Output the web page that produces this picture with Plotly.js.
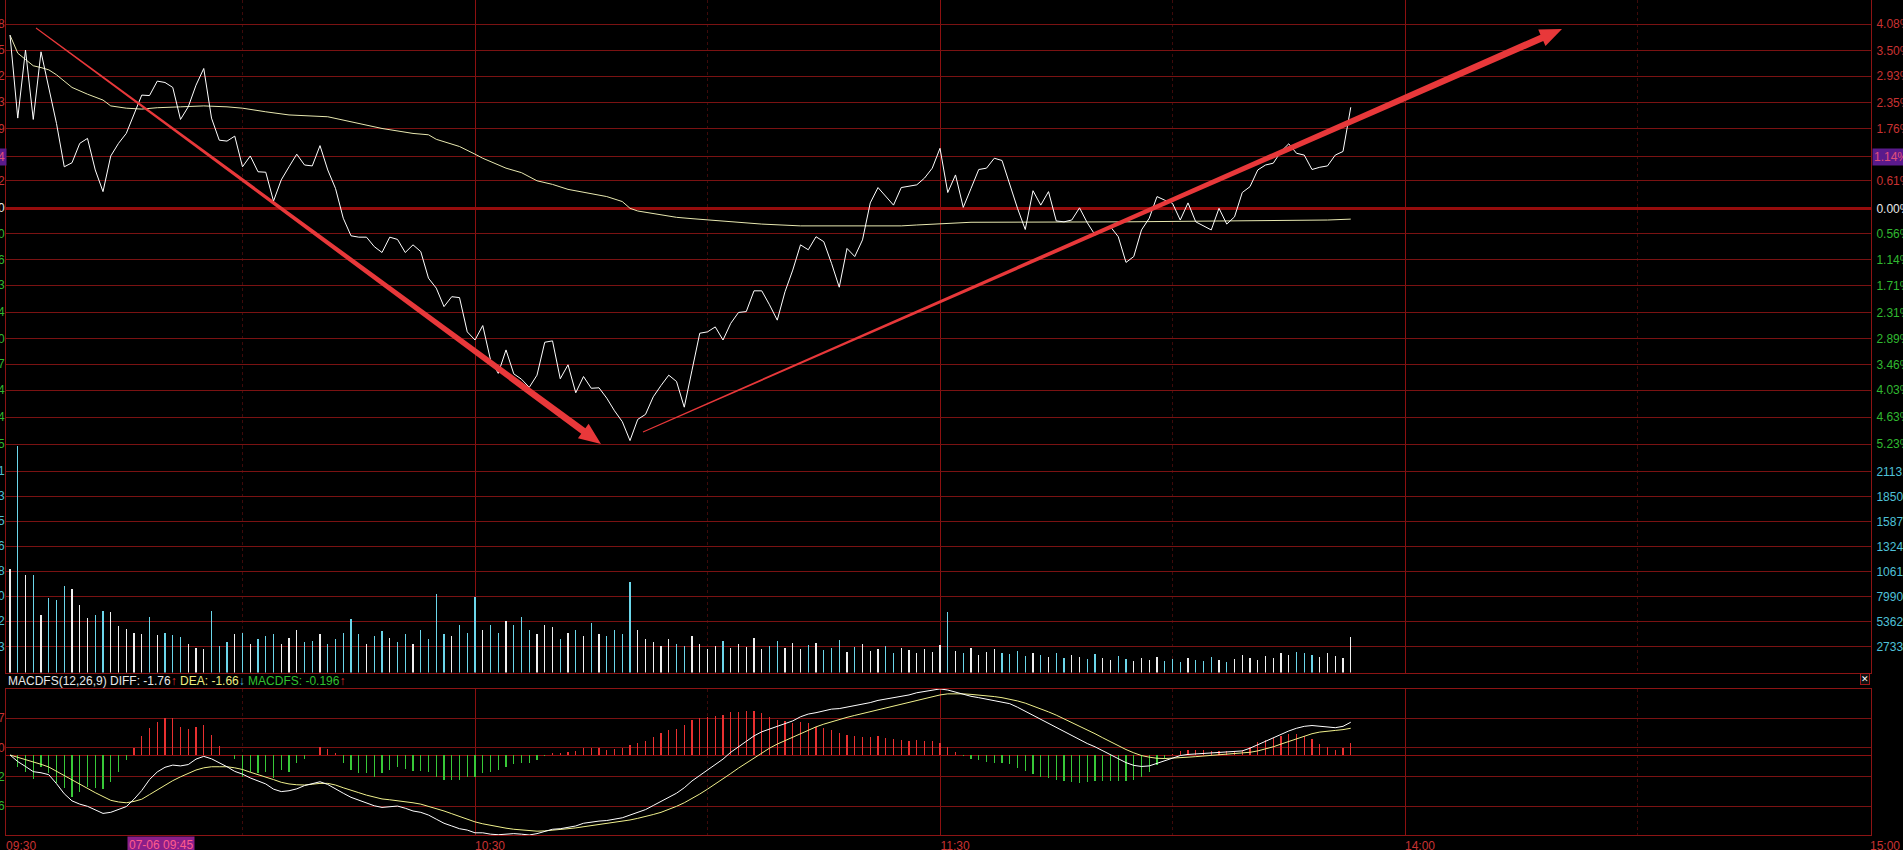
<!DOCTYPE html>
<html><head><meta charset="utf-8">
<script src="https://cdn.plot.ly/plotly-3.0.1.min.js"></script>
<style>html,body{margin:0;padding:0;background:#000;overflow:hidden}#chart{width:1903px;height:850px}</style>
</head><body><div id="chart"></div>
<script>
// ---------- DATA (minute index from 09:30, lunch break skipped) ----------
const timeTickVals = [-0.5, 60, 120, 180, 240];
const timeTickText = ['09:30', '10:30', '11:30', '14:00', '15:00'];
const halfHourVals = [30, 90, 150, 210];

const priceTickVals = [4.08,3.50,2.93,2.35,1.76,1.14,0.61,0,-0.56,-1.14,-1.71,-2.31,-2.89,-3.46,-4.03,-4.63,-5.23];
const priceTickText = ['4.08%','3.50%','2.93%','2.35%','1.76%','1.14%','0.61%','0.00%','0.56%','1.14%','1.71%','2.31%','2.89%','3.46%','4.03%','4.63%','5.23%'];
const priceLeftDigits = ['8','5','2','3','9','4','2','0','0','6','3','4','0','7','4','4','5'];

const volTickVals = [21131,18503,15875,13246,10618,7990,5362,2733];
const volLeftDigits = ['1','3','5','6','8','0','2','3'];

const macdGridVals = [2.418, 1.344, 0.27, -0.805, -1.879];
const macdLeftDigits = ['7','7','0','2','6'];

// price change in % (one point per minute)
const price = [3.84,2.00,3.51,1.97,3.47,2.66,1.88,0.92,1.01,1.44,1.55,0.85,0.37,1.16,1.44,1.66,2.07,2.51,2.50,2.82,2.79,2.68,1.97,2.25,2.73,3.10,2.00,1.51,1.49,
1.60,0.92,1.16,0.81,0.80,0.16,0.63,0.92,1.20,0.96,0.94,1.39,0.85,0.44,-0.22,-0.61,-0.64,-0.64,-0.85,-0.98,-0.64,-0.69,-0.98,-0.81,-0.96,-1.55,-1.77,-2.18,-1.96,
-1.98,-2.74,-2.92,-2.60,-3.36,-3.66,-3.14,-3.67,-3.79,-3.97,-3.70,-2.97,-2.94,-3.78,-3.47,-4.09,-3.73,-3.99,-3.98,-4.21,-4.49,-4.73,-5.15,-4.68,-4.57,-4.18,-3.93,-3.70,-3.84,-4.41,-3.59,
-2.77,-2.74,-2.63,-2.92,-2.55,-2.31,-2.29,-1.83,-1.83,-2.14,-2.48,-1.85,-1.37,-0.81,-0.92,-0.63,-0.74,-1.22,-1.75,-0.89,-1.07,-0.70,0.12,0.46,0.26,0.07,0.46,
0.49,0.52,0.67,0.89,1.33,0.35,0.74,0.02,0.44,0.86,0.89,1.11,1.06,0.52,0.00,-0.47,0.39,0.07,0.37,-0.28,-0.30,-0.26,0.01,-0.32,-0.59,-0.50,-0.41,-0.63,-1.20,
-1.07,-0.48,-0.22,0.26,0.18,0.11,-0.26,0.12,-0.30,-0.39,-0.48,0.00,-0.35,-0.19,0.35,0.48,0.85,0.96,1.00,1.26,1.43,1.22,1.18,0.86,0.91,0.94,1.18,1.26,2.24];

// average price line (sampled)
const avgMin = [0,1,2,3,4,5,6,7,8,10,12,13,15,17,19,22,25,28,30,33,36,41,45,48,52,54,55,58,60,61,64,66,68,70,72,74,77,79,80,81,84,86,88,91,97,102,115,117,120,124,144,164,170,173];
const avgPct = [3.84,3.44,3.30,3.16,3.12,3.07,2.96,2.81,2.68,2.53,2.40,2.27,2.22,2.20,2.23,2.25,2.27,2.25,2.22,2.14,2.07,2.03,1.88,1.77,1.66,1.63,1.53,1.37,1.20,1.11,0.89,0.79,0.61,0.53,0.42,0.35,0.26,0.15,0.00,-0.06,-0.15,-0.20,-0.23,-0.27,-0.35,-0.39,-0.39,-0.37,-0.35,-0.31,-0.30,-0.28,-0.26,-0.24];

const volume = [10878,23837,10247,10247,6043,7861,7620,9091,8776,7094,5696,6043,6464,6327,4887,4572,4183,4046,5802,3941,4120,3941,3700,2995,2543,
2500,6500,2800,3200,4000,4200,3000,3500,3800,4000,3000,3600,4500,3200,3300,4000,3000,3500,4200,5600,4000,3000,3800,4400,3600,3200,4000,3000,4500,3500,8200,4000,3800,5000,4200,
7900,4500,5000,4200,5400,5000,5800,4500,4000,5000,4800,3500,4200,4500,3800,5200,4000,3800,4500,4000,9500,4500,3500,3200,2800,3500,3000,2800,3800,3000,
2500,2800,3300,2600,3000,2700,3600,2500,2800,3300,2600,3100,2500,2900,3100,2400,2600,3400,2200,2700,3000,2300,2500,2800,2100,2600,2400,2000,2500,2200,2900,
6400,2300,2000,2600,1800,2200,2500,2000,1900,2300,1700,2100,1800,1600,2000,1500,1800,1600,1400,1900,1500,1300,1700,1400,1200,1500,1300,1600,1200,1400,
1100,1500,1300,1200,1600,1300,1100,1400,1800,1500,1300,1700,1500,2000,1800,2200,2000,1800,1600,2000,1700,1500,3700];

const macdDiff = [0,-0.24,-0.42,-0.61,-0.65,-0.72,-1.05,-1.42,-1.68,-1.80,-1.88,-2.00,-2.14,-2.10,-2.00,-1.89,-1.62,-1.30,-0.90,-0.62,-0.45,-0.37,-0.40,-0.35,-0.15,-0.05,-0.14,-0.28,-0.43,-0.60,-0.70,-0.84,-0.96,-1.06,-1.25,-1.34,-1.31,-1.24,-1.12,-1.04,-0.98,-1.08,-1.25,-1.40,-1.55,-1.65,-1.76,-1.86,-1.92,-1.90,-1.87,
-1.95,-2.05,-2.1,-2.2,-2.35,-2.5,-2.6,-2.7,-2.75,-2.85,-2.85,-2.9,-2.92,-2.9,-2.88,-2.9,-2.93,-2.88,-2.8,-2.72,-2.7,-2.65,-2.6,-2.5,-2.45,-2.42,-2.4,-2.35,-2.3,-2.2,-2.1,-2.0,-1.85,-1.7,-1.55,-1.4,-1.2,-0.95,-0.75,-0.55,-0.35,-0.15,0.1,0.3,0.5,0.7,0.85,0.95,1.05,1.15,1.25,1.4,1.5,1.55,1.62,1.68,1.7,1.75,1.8,1.85,1.92,2.0,2.05,2.1,2.15,2.2,2.28,2.33,2.38,2.42,2.38,2.3,2.22,2.15,2.1,2.05,2.0,1.95,1.88,1.75,1.6,1.45,1.3,1.15,1.0,0.85,0.7,0.55,0.42,0.3,0.15,0.0,-0.15,-0.28,-0.38,-0.42,-0.4,-0.3,-0.2,-0.1,-0.02,0.02,0.04,0.05,0.06,0.08,0.1,0.12,0.15,0.25,0.38,0.5,0.62,0.75,0.88,0.98,1.05,1.08,1.05,1.02,1.0,1.05,1.2];

const macdDea = [0,-0.08,-0.17,-0.25,-0.34,-0.44,-0.60,-0.76,-0.92,-1.08,-1.22,-1.38,-1.52,-1.66,-1.72,-1.75,-1.70,-1.62,-1.45,-1.28,-1.10,-0.94,-0.80,-0.68,-0.55,-0.47,-0.43,-0.43,-0.43,-0.47,-0.53,-0.63,-0.72,-0.79,-0.90,-1.00,-1.06,-1.09,-1.10,-1.07,-1.04,-1.04,-1.10,-1.20,-1.30,-1.38,-1.47,-1.55,-1.61,-1.64,-1.67,
-1.7,-1.75,-1.8,-1.88,-1.95,-2.05,-2.15,-2.25,-2.35,-2.45,-2.52,-2.58,-2.64,-2.68,-2.72,-2.75,-2.78,-2.79,-2.78,-2.76,-2.74,-2.7,-2.67,-2.63,-2.58,-2.54,-2.5,-2.46,-2.42,-2.38,-2.32,-2.26,-2.18,-2.1,-2.0,-1.88,-1.75,-1.6,-1.43,-1.25,-1.07,-0.88,-0.68,-0.48,-0.3,-0.1,0.08,0.25,0.4,0.53,0.66,0.8,0.92,1.03,1.13,1.22,1.3,1.38,1.45,1.52,1.59,1.66,1.73,1.8,1.87,1.94,2.0,2.07,2.13,2.2,2.24,2.25,2.24,2.22,2.2,2.17,2.14,2.1,2.05,1.98,1.9,1.8,1.7,1.58,1.46,1.33,1.2,1.06,0.92,0.78,0.63,0.48,0.33,0.2,0.08,-0.02,-0.08,-0.12,-0.13,-0.12,-0.1,-0.08,-0.06,-0.04,-0.02,0.0,0.02,0.04,0.06,0.1,0.15,0.22,0.3,0.4,0.5,0.6,0.7,0.78,0.84,0.88,0.9,0.93,0.98];

const macdHist = [0,-0.43,-0.61,-0.89,-0.43,-0.67,-1.04,-1.22,-1.53,-1.34,-1.16,-1.20,-1.26,-0.98,-0.61,-0.18,0.27,0.70,0.98,1.22,1.34,1.34,1.04,0.94,1.04,1.10,0.73,0.33,0,-0.15,-0.79,-0.61,-0.67,-0.61,-0.85,-0.55,-0.61,-0.31,-0.15,0,0.28,0.21,0.06,-0.31,-0.55,-0.67,-0.67,-0.79,-0.67,-0.55,-0.45,
-0.5,-0.6,-0.6,-0.64,-0.8,-0.9,-0.9,-0.9,-0.8,-0.8,-0.66,-0.64,-0.56,-0.44,-0.32,-0.3,-0.3,-0.18,-0.04,0.08,0.08,0.1,0.14,0.26,0.26,0.24,0.2,0.22,0.24,0.36,0.44,0.52,0.66,0.8,0.9,0.96,1.1,1.3,1.36,1.4,1.44,1.46,1.56,1.56,1.6,1.6,1.54,1.4,1.3,1.24,1.18,1.2,1.16,1.04,0.98,0.92,0.8,0.74,0.7,0.66,0.66,0.68,0.64,0.6,0.56,0.52,0.56,0.52,0.5,0.44,0.28,0.1,-0.04,-0.14,-0.2,-0.24,-0.28,-0.3,-0.34,-0.46,-0.6,-0.7,-0.8,-0.86,-0.92,-0.96,-1.0,-1.02,-1.0,-0.96,-0.96,-0.96,-0.96,-0.96,-0.92,-0.8,-0.64,-0.36,-0.14,0.04,0.16,0.2,0.2,0.18,0.16,0.16,0.16,0.16,0.18,0.3,0.46,0.56,0.64,0.7,0.76,0.76,0.7,0.6,0.42,0.28,0.2,0.24,0.44];

const headerParts = [
  ['MACDFS(12,26,9) DIFF: -1.76', '#e8e8e8'], ['↑', '#e03030'],
  [' DEA: -1.66', '#eeee80'], ['↓', '#50b8d8'],
  [' MACDFS: -0.196', '#30c030'], ['↑', '#e03030']
];
const cursorLabel = '07-06 09:45';
const cursorMinute = 15;
const currentLabel = '1.14%';
const currentValue = 1.14;

// hand-drawn arrows (pixel positions on the page)
const arrowDown = [[36, 28], [601, 444]];
const arrowUp = [[643, 432], [1562, 29]];

// ---------- STYLE ----------
const RED_T = '#c83232', GREEN_T = '#30b830', CYAN_T = '#4ec0d8', WHITE_T = '#e8e8e8';
const GRID = '#7a1212', AXLINE = '#8c1414';
const FONT = 'Liberation Sans, Arial, sans-serif';
const PL = 6, PR = 1871, PB = 835;
const W = PR - PL, H = PB;
function px2paper(p) { return [(p[0] - PL) / W, (PB - p[1]) / H]; }

const idx = price.map((_, i) => i);
const volUp = [], volDown = [], xUp = [], xDown = [];
volume.forEach((v, i) => {
  if (i === 0 || price[i] >= price[i - 1]) { xUp.push(i); volUp.push(v); }
  else { xDown.push(i); volDown.push(v); }
});
const hPos = [], xPos = [], hNeg = [], xNeg = [];
macdHist.forEach((v, i) => { if (v >= 0) { xPos.push(i); hPos.push(v); } else { xNeg.push(i); hNeg.push(v); } });

const colorOf = v => v > 0 ? RED_T : (v < 0 ? GREEN_T : WHITE_T);

const traces = [
  {x: avgMin, y: avgPct, type: 'scatter', mode: 'lines', line: {color: '#e8e8b0', width: 1}, xaxis: 'x', yaxis: 'y'},
  {x: idx, y: price, type: 'scatter', mode: 'lines', line: {color: '#ffffff', width: 1}, xaxis: 'x', yaxis: 'y'},
  {x: xUp, y: volUp, type: 'bar', width: 0.16, marker: {color: '#f0f0f0', line: {width: 0}}, xaxis: 'x2', yaxis: 'y2'},
  {x: xDown, y: volDown, type: 'bar', width: 0.16, marker: {color: '#6cd6ea', line: {width: 0}}, xaxis: 'x2', yaxis: 'y2'},
  {x: xPos, y: hPos, type: 'bar', width: 0.16, marker: {color: '#e83030', line: {width: 0}}, xaxis: 'x3', yaxis: 'y3'},
  {x: xNeg, y: hNeg, type: 'bar', width: 0.16, marker: {color: '#38c838', line: {width: 0}}, xaxis: 'x3', yaxis: 'y3'},
  {x: idx, y: macdDea, type: 'scatter', mode: 'lines', line: {color: '#f0f08c', width: 1}, xaxis: 'x3', yaxis: 'y3'},
  {x: idx, y: macdDiff, type: 'scatter', mode: 'lines', line: {color: '#ffffff', width: 1}, xaxis: 'x3', yaxis: 'y3'}
];

const xRange = [(PL - 10) / 7.75, (PR - 10) / 7.75];
function xAxis(anchor, showLabels, line, mirror) {
  return {
    anchor: anchor, range: xRange, tickmode: 'array', tickvals: timeTickVals, ticktext: timeTickText,
    showticklabels: showLabels, ticks: '', showgrid: true, gridcolor: '#8c1010', gridwidth: 1,
    zeroline: false, showline: line, linecolor: AXLINE, linewidth: 1, mirror: mirror,
    tickfont: {family: FONT, size: 12, color: RED_T}, ticklabelshift: 15, ticklabelstandoff: 0,
    minor: {tickmode: 'array', tickvals: halfHourVals, showgrid: true, gridcolor: '#3e0a0a', griddash: 'dot', gridwidth: 1, ticks: ''},
    fixedrange: true
  };
}

const layout = {
  width: 1903, height: 850, paper_bgcolor: '#000', plot_bgcolor: '#000',
  margin: {l: PL, r: 1903 - PR, t: 0, b: 850 - PB}, showlegend: false, bargap: 0,
  xaxis: xAxis('y', false, false, false), xaxis2: xAxis('y2', false, true, false), xaxis3: xAxis('y3', true, true, true),
  yaxis: {
    domain: [(PB - 445.7) / H, 1], range: [(208.3 - 445.7) / 45.1, 208.3 / 45.1], side: 'right',
    tickmode: 'array', tickvals: priceTickVals,
    ticktext: priceTickText.map((t, i) => '<span style="color:' + colorOf(priceTickVals[i]) + '">' + t + '</span>'),
    tickfont: {family: FONT, size: 12, color: RED_T}, ticks: '', ticklabelstandoff: 2,
    showgrid: true, gridcolor: GRID, gridwidth: 1, zeroline: true, zerolinecolor: '#960c0c', zerolinewidth: 3,
    showline: true, linecolor: AXLINE, mirror: true, fixedrange: true
  },
  yaxis2: {
    domain: [(PB - 672.5) / H, (PB - 445.7) / H], range: [0, 23837], side: 'right',
    tickmode: 'array', tickvals: volTickVals, ticktext: volTickVals.map(String),
    tickfont: {family: FONT, size: 12, color: CYAN_T}, ticks: '', ticklabelstandoff: 2,
    showgrid: true, gridcolor: GRID, gridwidth: 1, zeroline: false,
    showline: true, linecolor: AXLINE, mirror: true, fixedrange: true
  },
  yaxis3: {
    domain: [0, (PB - 689) / H], range: [-(PB - 755) / 27.3, (755 - 689) / 27.3], side: 'right',
    tickmode: 'array', tickvals: macdGridVals, showticklabels: false, ticks: '',
    showgrid: true, gridcolor: GRID, gridwidth: 1, zeroline: true, zerolinecolor: '#8c1010', zerolinewidth: 1,
    showline: true, linecolor: AXLINE, mirror: true, fixedrange: true
  },
  annotations: [],
  shapes: []
};

// left side clipped labels
function leftLabels(vals, digits, yref, colorFn) {
  vals.forEach((v, i) => layout.annotations.push({
    xref: 'paper', x: 0, xanchor: 'right', xshift: 1, yref: yref, y: v, yanchor: 'middle',
    text: digits[i], showarrow: false, font: {family: FONT, size: 12, color: colorFn(v, i)}
  }));
}
leftLabels(priceTickVals, priceLeftDigits, 'y', v => colorOf(v));
leftLabels(volTickVals, volLeftDigits, 'y2', () => CYAN_T);
leftLabels(macdGridVals, macdLeftDigits, 'y3', (v, i) => i < 3 ? RED_T : GREEN_T);

// current-value highlight (right and left)
layout.annotations.push({
  xref: 'paper', x: 1, xanchor: 'left', xshift: 1, yref: 'y', y: currentValue, yanchor: 'middle',
  text: currentLabel, showarrow: false, bgcolor: '#5a1a8c', borderpad: 1,
  font: {family: FONT, size: 12, color: '#e0507a'}
});
layout.annotations.push({
  xref: 'paper', x: 0, xanchor: 'right', xshift: 1, yref: 'y', y: currentValue, yanchor: 'middle',
  text: priceLeftDigits[priceTickVals.indexOf(currentValue)], showarrow: false, bgcolor: '#5a1a8c', borderpad: 1,
  font: {family: FONT, size: 12, color: '#e0507a'}
});

// MACD header
layout.annotations.push({
  xref: 'paper', x: 0, xanchor: 'left', xshift: 0, yref: 'paper', y: (PB - 681) / H, yanchor: 'middle',
  text: headerParts.map(p => '<span style="color:' + p[1] + '">' + p[0] + '</span>').join(''),
  showarrow: false, font: {family: FONT, size: 12, color: '#e8e8e8'}
});
// close box
layout.annotations.push({
  xref: 'paper', x: (1865 - PL) / W, xanchor: 'center', yref: 'paper', y: (PB - 679) / H, yanchor: 'middle',
  text: '✕', showarrow: false, bgcolor: '#101010', bordercolor: '#a01818', borderwidth: 1, borderpad: 0,
  font: {family: 'DejaVu Sans', size: 9, color: '#ffffff'}
});
// cursor time label
layout.annotations.push({
  xref: 'x3', x: cursorMinute, xanchor: 'left', xshift: 1, yref: 'paper', y: 0, yanchor: 'top', yshift: -1,
  text: cursorLabel, showarrow: false, bgcolor: '#8a1e8a', borderpad: 1,
  font: {family: FONT, size: 12, color: '#ff5c8c'}
});

// arrows as tapered polygons
function arrowPath(a, b, w0, w1, hl, hw) {
  const dx = b[0] - a[0], dy = b[1] - a[1], L = Math.hypot(dx, dy);
  const ux = dx / L, uy = dy / L, nx = -uy, ny = ux;
  const bx = b[0] - ux * hl, by = b[1] - uy * hl;
  const pts = [
    [a[0] + nx * w0 / 2, a[1] + ny * w0 / 2], [bx + nx * w1 / 2, by + ny * w1 / 2], [bx + nx * hw / 2, by + ny * hw / 2],
    [b[0], b[1]], [bx - nx * hw / 2, by - ny * hw / 2], [bx - nx * w1 / 2, by - ny * w1 / 2], [a[0] - nx * w0 / 2, a[1] - ny * w0 / 2]
  ].map(px2paper);
  return 'M' + pts.map(p => p[0].toFixed(5) + ',' + p[1].toFixed(5)).join(' L') + ' Z';
}
[arrowDown, arrowUp].forEach(ar => layout.shapes.push({
  type: 'path', xref: 'paper', yref: 'paper', layer: 'above',
  path: arrowPath(ar[0], ar[1], 1, 7, 22, 18), fillcolor: '#e8383a', line: {width: 0}
}));

Plotly.newPlot('chart', traces, layout, {staticPlot: true, displayModeBar: false});
</script>
</body></html>
